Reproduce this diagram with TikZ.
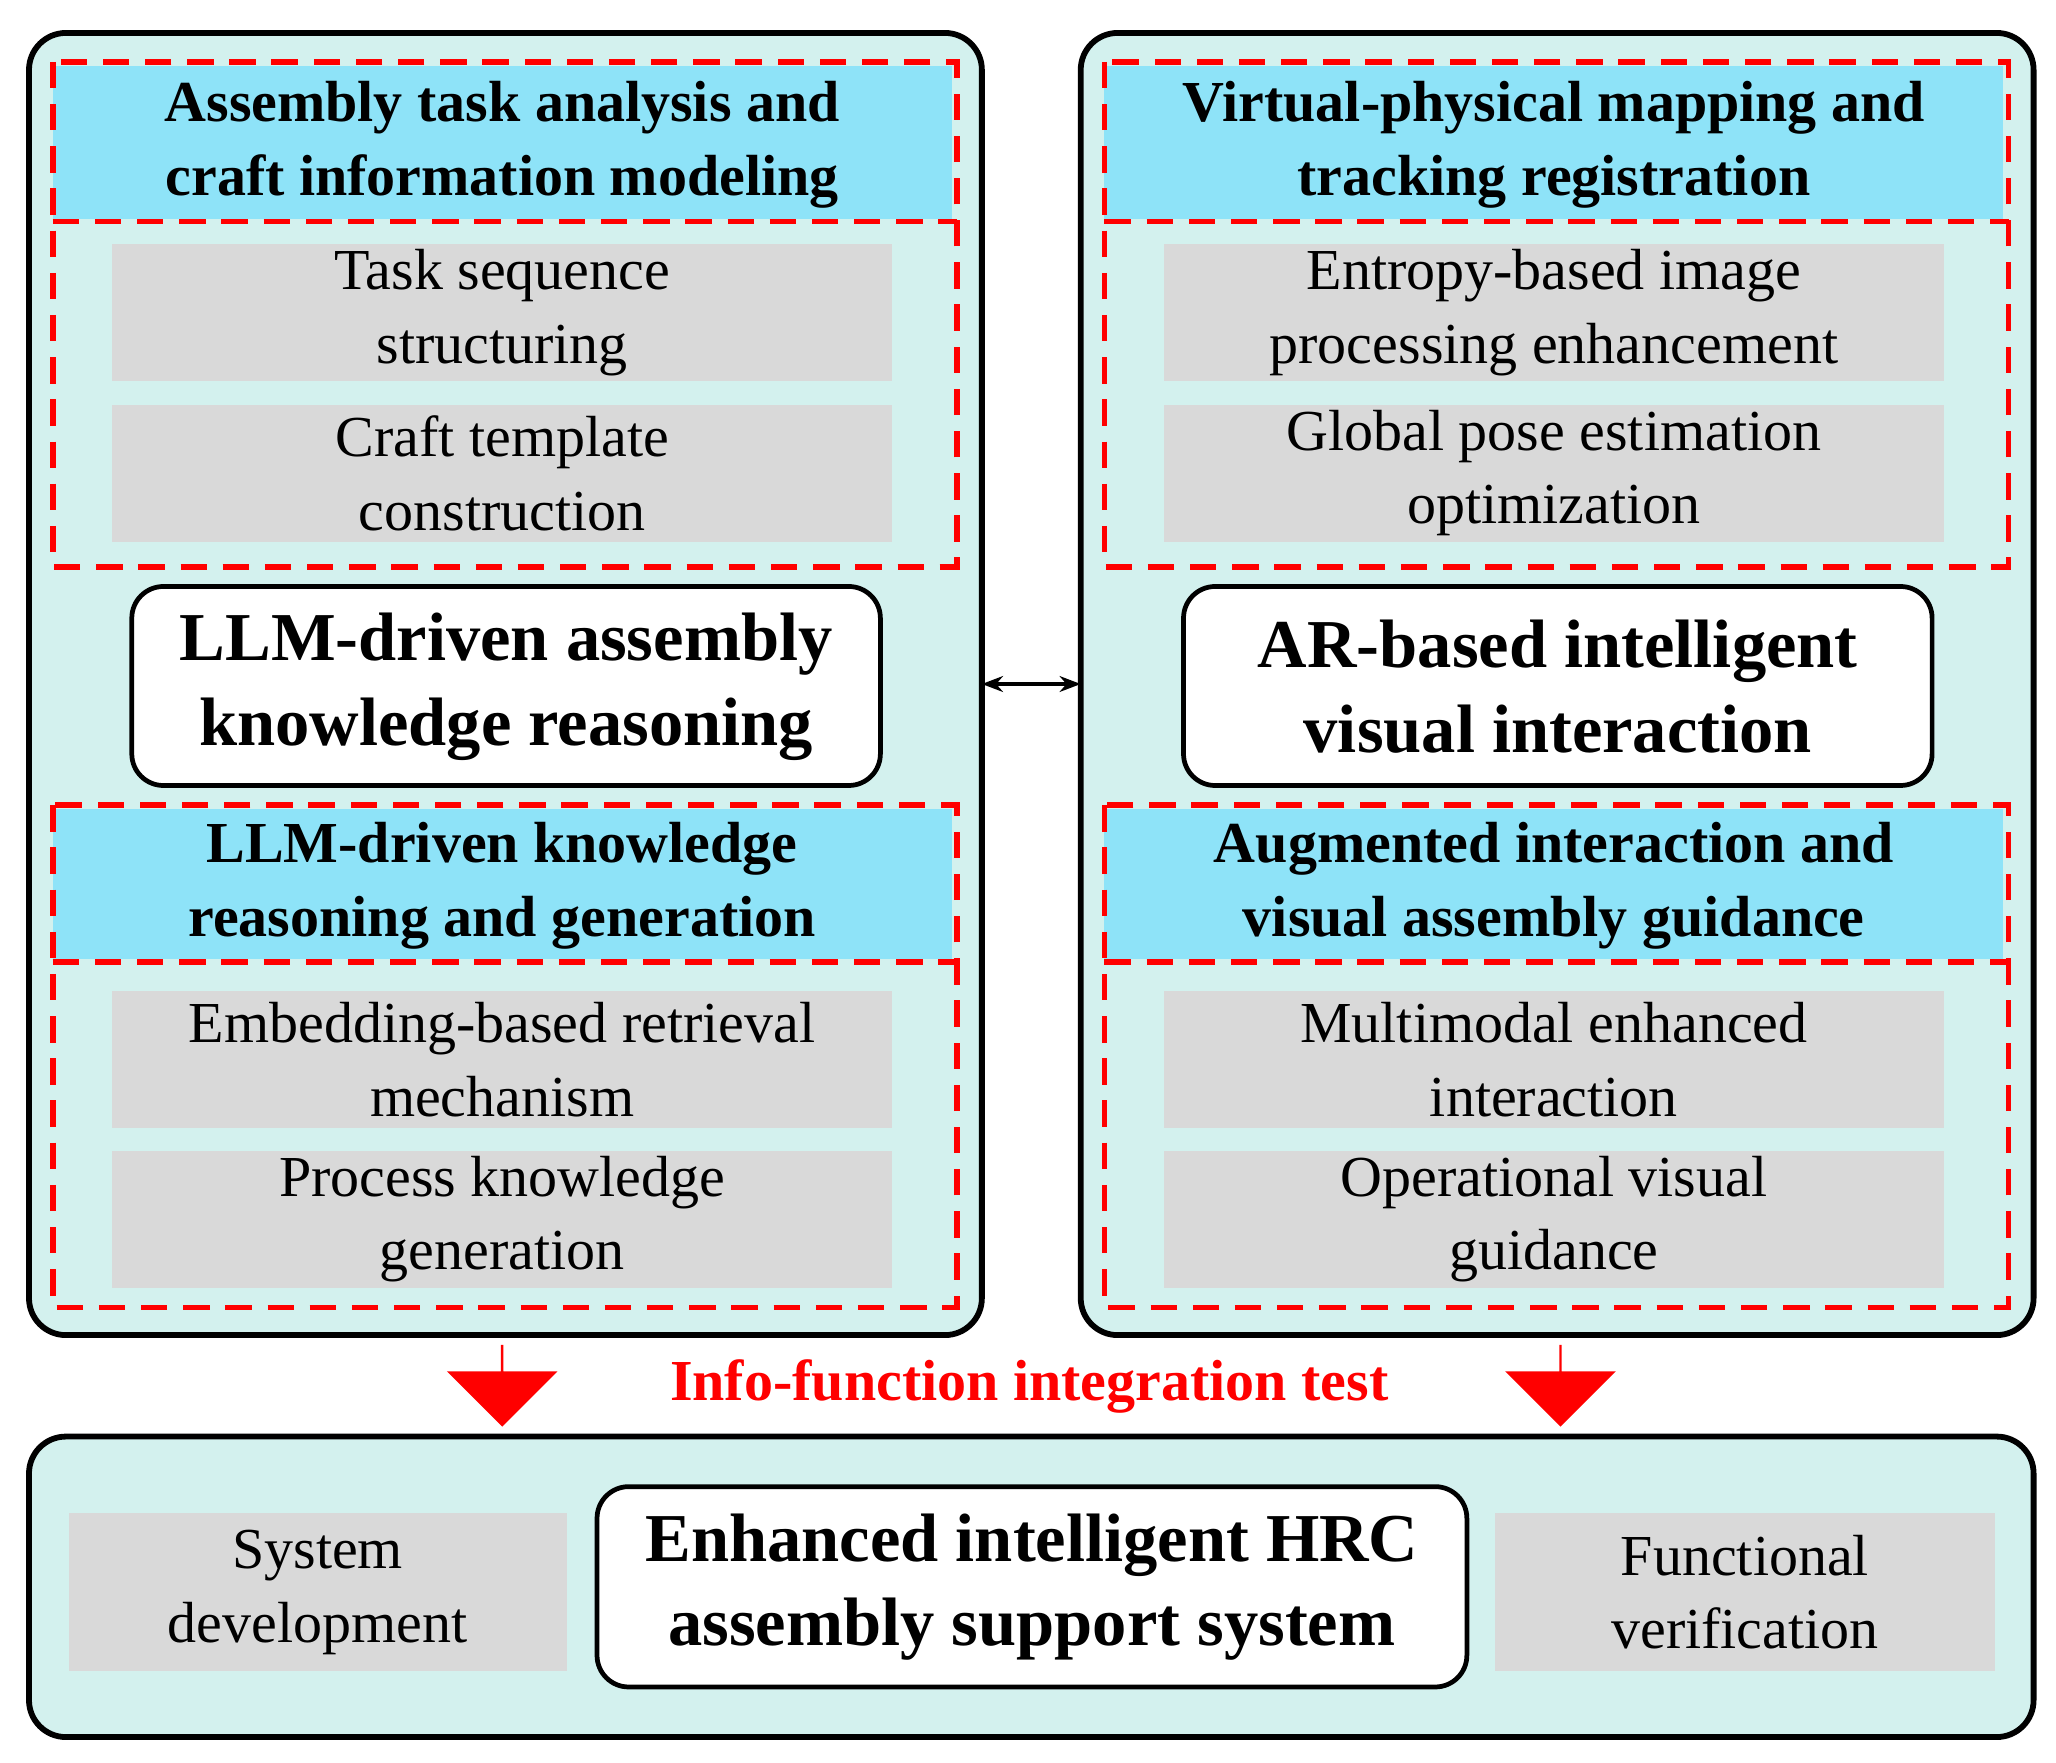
\documentclass[tikz,border=0pt]{standalone}
\usepackage{fontspec}
\setmainfont{Liberation Serif}
\usetikzlibrary{arrows.meta,shapes.arrows}
\definecolor{panel}{HTML}{D3F1EE}
\definecolor{band}{HTML}{8EE3F8}
\definecolor{gbox}{HTML}{D9D9D9}
\begin{document}
\begin{tikzpicture}[x=0.5pt,y=-0.5pt,
 panel/.style={draw=black,line width=2.2pt,rounded corners=14pt,fill=panel},
 reddash/.style={draw=red,line width=2.2pt,dash pattern=on 10pt off 6pt},
 band/.style={fill=band,draw=none},
 gray/.style={fill=gbox,draw=none},
 wbox/.style={draw=black,line width=1.8pt,rounded corners=12pt,fill=white},
 tt/.style={font=\bfseries\fontsize{22}{28}\selectfont,align=center},
 gt/.style={font=\fontsize{22}{28}\selectfont,align=center},
 bt/.style={font=\bfseries\fontsize{26}{32}\selectfont,align=center}]
\useasboundingbox (0,0) rectangle (1560,1337);
\draw[panel] (22,25) rectangle (745,1013);
\draw[panel] (820,25) rectangle (1543,1013);
\draw[panel] (22,1090) rectangle (1543,1318);
\foreach \dx/\ta/\tb/\ga/\gb/\gc/\gd/\wa in {
 0/{Assembly task analysis and\\craft information modeling}/{LLM-driven knowledge\\reasoning and generation}/{Task sequence\\structuring}/{Craft template\\construction}/{Embedding-based retrieval\\mechanism}/{Process knowledge\\generation}/{LLM-driven assembly\\knowledge reasoning},
 798/{Virtual-physical mapping and\\tracking registration}/{Augmented interaction and\\visual assembly guidance}/{Entropy-based image\\processing enhancement}/{Global pose estimation\\optimization}/{Multimodal enhanced\\interaction}/{Operational visual\\guidance}/{AR-based intelligent\\visual interaction}}{
 \begin{scope}[xshift=\dx*0.5pt]
 \fill[band] (40,50) rectangle (722,166);
 \draw[reddash] (40,47) rectangle (726,430);
 \draw[reddash] (40,168) -- (726,168);
 \node[gray,minimum width=296pt,minimum height=52pt] at (381,237) {};
 \node[gt] at (381,237) {\ga};
 \node[gray,minimum width=296pt,minimum height=52pt] at (381,359) {};
 \node[gt] at (381,359) {\gb};
 \node[tt] at (381,110) {\ta};
 \fill[band] (40,614) rectangle (722,728);
 \draw[reddash] (40,611) rectangle (726,992);
 \draw[reddash] (40,730) -- (726,730);
 \node[gray,minimum width=296pt,minimum height=52pt] at (381,804) {};
 \node[gt] at (381,804) {\gc};
 \node[gray,minimum width=296pt,minimum height=52pt] at (381,925) {};
 \node[gt] at (381,925) {\gd};
 \node[tt] at (381,672) {\tb};
 \draw[wbox] (100,445) rectangle (668,596);
 \node[bt] at (384,521) {\wa};
 \end{scope}}
\coordinate (la) at (745,519); \coordinate (ra) at (820,519);
\draw[{Stealth[length=8pt]}-{Stealth[length=8pt]},line width=1.8pt] (la) -- (ra);
\node[single arrow,shape border rotate=270,fill=red,draw=none,minimum width=42pt,single arrow head extend=9pt,minimum height=31pt,inner sep=0pt] (a1) at (381,1051) {};
\node[single arrow,shape border rotate=270,fill=red,draw=none,minimum width=42pt,single arrow head extend=9pt,minimum height=31pt,inner sep=0pt] (a2) at (1184,1051) {};
\node[text=red,font=\bfseries\fontsize{22}{28}\selectfont] (it) at (781,1052) {Info-function integration test};
\node[gray,minimum width=189pt,minimum height=60pt] (g1) at (241,1208) {};
\node[gt] at (241,1208) {System\\development};
\node[gray,minimum width=190pt,minimum height=60pt] (g2) at (1324,1208) {};
\node[gt] at (1324,1208) {Functional\\verification};
\draw[wbox] (453,1128) rectangle (1113,1280);
\node[bt] at (783,1204) {Enhanced intelligent HRC\\assembly support system};
\end{tikzpicture}
\end{document}
